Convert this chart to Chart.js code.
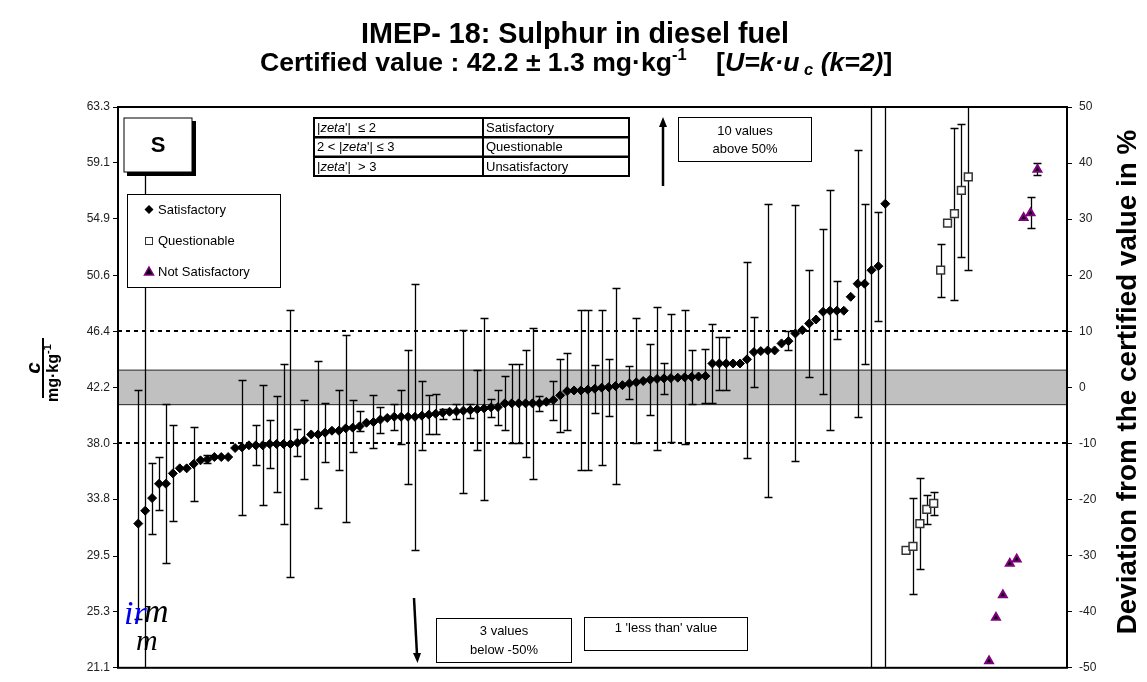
<!DOCTYPE html>
<html>
<head>
<meta charset="utf-8">
<script src="https://cdn.jsdelivr.net/npm/chart.js@4.4.1/dist/chart.umd.min.js"></script>
<style>
  html, body { margin: 0; padding: 0; background: #fff; }
  #wrap { width: 1147px; height: 682px; position: relative; }
</style>
</head>
<body>
<div id="wrap"><canvas id="chart"></canvas></div>
<script>
// certified value and expanded uncertainty (mg/kg)
const certified = 42.2;
const certifiedU = 1.3;

const leftTickLabels = ['63.3', '59.1', '54.9', '50.6', '46.4', '42.2', '38.0', '33.8', '29.5', '25.3', '21.1'];
const rightTickLabels = [50, 40, 30, 20, 10, 0, -10, -20, -30, -40, -50];

// satisfactory results, in participant order (slot 3 .. 111)
const satValues = [
  31.95, 32.92, 33.87, 34.95, 34.95, 35.73, 36.11, 36.11, 36.43, 36.71,
  36.78, 36.96, 36.96, 36.96, 37.64, 37.69, 37.84, 37.84, 37.84, 37.94,
  37.94, 37.94, 37.94, 38.04, 38.21, 38.66, 38.66, 38.79, 38.94, 38.94,
  39.12, 39.17, 39.27, 39.54, 39.59, 39.78, 39.90, 39.99, 39.99, 39.99,
  39.99, 40.07, 40.15, 40.22, 40.30, 40.37, 40.39, 40.45, 40.49, 40.55,
  40.62, 40.70, 40.72, 41.00, 41.00, 41.00, 41.00, 41.00, 41.00, 41.12,
  41.25, 41.60, 41.92, 41.97, 41.97, 42.03, 42.10, 42.18, 42.22, 42.30,
  42.37, 42.50, 42.58, 42.68, 42.78, 42.84, 42.88, 42.90, 42.93, 42.96,
  42.99, 43.02, 43.05, 44.00, 44.00, 44.00, 44.00, 44.00, 44.31, 44.86,
  44.93, 44.98, 44.98, 45.51, 45.68, 46.26, 46.51, 47.01, 47.31, 47.89,
  47.97, 47.97, 47.97, 49.02, 50.00, 50.00, 51.02, 51.32, 56.02
];
const satLow = [
  24.75, 10, 31.14, 32.95, 28.96, 32.14, null, null, 33.65, null,
  36.48, null, null, null, null, 32.57, null, 36.33, 33.32, 36.16,
  34.33, 31.92, 27.93, 37.03, 35.28, null, 33.15, 36.58, null, 35.98,
  32.07, 37.33, 38.91, null, 37.66, 38.79, null, 38.97, 37.96, 34.96,
  29.94, 37.46, 38.66, 38.72, 39.85, null, 39.79, 34.23, 39.87, 37.46,
  33.72, 39.97, 39.36, 38.97, 37.99, 37.99, 36.96, 35.28, 40.42, null,
  39.74, 38.87, 38.97, null, 35.98, 35.98, 40.30, 36.36, 40.04, 34.96,
  null, 41.35, 37.99, null, 40.09, 37.46, 41.70, 38.09, null, 37.91,
  40.97, null, 41.05, 41.05, 42.00, 42.00, null, null, 36.91, 42.22,
  null, 33.95, null, null, 44.98, 36.66, null, 43.00, null, 41.67,
  38.97, 45.81, null, null, 39.97, 43.98, 10, 47.19, 10
];
const satHigh = [
  42.00, 60.00, 36.54, 36.96, 40.97, 39.34, null, null, 39.24, null,
  37.09, null, null, null, null, 42.75, null, 39.34, 42.37, 39.74,
  41.58, 43.98, 47.99, 39.04, 41.25, null, 44.18, 41.00, null, 42.00,
  46.13, 41.22, 40.42, null, 41.65, 40.72, null, 40.97, 42.00, 45.00,
  50.00, 42.67, 41.60, 41.73, 40.60, null, 40.92, 46.51, 40.97, 43.50,
  47.39, 41.35, 41.97, 43.05, 43.98, 43.98, 45.00, 46.66, 41.55, null,
  42.67, 44.31, 44.76, null, 47.99, 47.99, 43.85, 47.99, 44.31, 49.70,
  null, 43.80, 47.39, null, 45.49, 48.24, 44.00, 47.69, null, 47.99,
  45.00, null, 45.11, 46.99, 45.98, 45.98, null, null, 51.63, 47.49,
  null, 56.02, null, null, 46.44, 55.91, null, 51.02, null, 54.14,
  57.04, 50.20, null, null, 60.03, 56.02, 80, 55.39, 80
];

// questionable results (slots 114 .. 123)
const qSlots = [114, 115, 116, 117, 118, 119, 120, 121, 122, 123];
const qValues = [29.94, 30.24, 31.95, 33.02, 33.47, 51.03, 54.56, 55.27, 57.02, 58.05];
const qLow = [null, 26.63, 28.54, 31.95, 32.62, 48.99, null, 48.77, 52.03, 51.03];
const qHigh = [null, 33.85, 35.37, 34.14, 34.32, 52.96, null, 61.69, 62.04, 66.00];

// unsatisfactory results (slots 126 .. 133)
const uSlots = [126, 127, 128, 129, 130, 131, 132, 133];
const uValues = [21.61, 24.88, 26.58, 28.94, 29.26, 54.97, 55.33, 58.60];
const uLow = [null, null, null, null, null, null, 54.22, 58.20];
const uHigh = [null, null, null, null, null, null, 56.55, 59.10];

const FONT = "'Liberation Sans', Arial, sans-serif";
const SERIF = "'Liberation Serif', 'DejaVu Serif', serif";

const satData = satValues.map((v, i) => ({ x: i + 3, y: v }));
const qData = qValues.map((v, i) => ({ x: qSlots[i], y: v }));
const uData = uValues.map((v, i) => ({ x: uSlots[i], y: v }));

// font size that makes text span targetW
function fitSize(ctx, text, style, target) {
  ctx.font = style + ' 20px ' + FONT;
  return 20 * target / ctx.measureText(text).width;
}

const bandPlugin = {
  id: 'band',
  beforeDatasetsDraw(chart) {
    const { ctx, chartArea: a, scales: { y } } = chart;
    ctx.save();
    const yTop = y.getPixelForValue(certified + certifiedU);
    const yBot = y.getPixelForValue(certified - certifiedU);
    ctx.fillStyle = '#c0c0c0';
    ctx.fillRect(a.left, yTop, a.right - a.left, yBot - yTop);
    ctx.strokeStyle = '#222';
    ctx.lineWidth = 1;
    ctx.beginPath();
    ctx.moveTo(a.left, yTop); ctx.lineTo(a.right, yTop);
    ctx.moveTo(a.left, yBot); ctx.lineTo(a.right, yBot);
    ctx.stroke();
    // +-10 % lines
    ctx.setLineDash([4, 4]);
    ctx.lineWidth = 2;
    ctx.strokeStyle = '#000';
    [1.1, 0.9].forEach(f => {
      const py = Math.round(y.getPixelForValue(certified * f));
      ctx.beginPath(); ctx.moveTo(a.left, py); ctx.lineTo(a.right, py); ctx.stroke();
    });
    ctx.restore();
  }
};

const errorBarPlugin = {
  id: 'errorBars',
  beforeDatasetsDraw(chart) {
    const { ctx, chartArea: a, scales: { x, y } } = chart;
    ctx.save();
    ctx.beginPath();
    ctx.rect(a.left, a.top, a.right - a.left, a.bottom - a.top);
    ctx.clip();
    ctx.strokeStyle = '#000';
    ctx.lineWidth = 1.3;
    chart.data.datasets.forEach(ds => {
      ds.data.forEach((p, i) => {
        const lo = ds.errLow[i], hi = ds.errHigh[i];
        if (lo == null || hi == null) return;
        const px = Math.round(x.getPixelForValue(p.x)) + 0.5;
        const y1 = Math.round(y.getPixelForValue(lo)) + 0.5;
        const y2 = Math.round(y.getPixelForValue(hi)) + 0.5;
        ctx.beginPath();
        ctx.moveTo(px, y1); ctx.lineTo(px, y2);
        ctx.moveTo(px - 4, y1); ctx.lineTo(px + 4, y1);
        ctx.moveTo(px - 4, y2); ctx.lineTo(px + 4, y2);
        ctx.stroke();
      });
    });
    ctx.restore();
  }
};

function box(ctx, x, y, w, h, lw) {
  ctx.fillStyle = '#fff';
  ctx.fillRect(x, y, w, h);
  ctx.lineWidth = lw;
  ctx.strokeStyle = '#000';
  ctx.strokeRect(x, y, w, h);
}

const overlayPlugin = {
  id: 'overlay',
  afterDatasetsDraw(chart) {
    const { ctx, chartArea: a } = chart;
    ctx.save();
    // frame
    ctx.strokeStyle = '#000';
    ctx.lineWidth = 2;
    ctx.strokeRect(a.left, a.top, a.right - a.left, a.bottom - a.top);

    // "S" box with shadow
    ctx.fillStyle = '#000';
    ctx.fillRect(127, 121, 69, 55);
    box(ctx, 124, 118, 68, 54, 1);
    ctx.fillStyle = '#000';
    ctx.font = 'bold 22px ' + FONT;
    ctx.textAlign = 'center';
    ctx.textBaseline = 'middle';
    ctx.fillText('S', 158, 146);

    // legend
    box(ctx, 127.5, 194.5, 153, 93, 1);
    ctx.textAlign = 'left';
    ctx.font = '13px ' + FONT;
    ctx.fillStyle = '#000';
    const lx = 149;
    ctx.beginPath();
    ctx.moveTo(lx, 205); ctx.lineTo(lx + 4.5, 209.5); ctx.lineTo(lx, 214); ctx.lineTo(lx - 4.5, 209.5);
    ctx.closePath(); ctx.fill();
    ctx.fillText('Satisfactory', 158, 210);
    ctx.strokeStyle = '#333'; ctx.lineWidth = 1;
    ctx.strokeRect(145.5, 237.5, 7, 7);
    ctx.fillText('Questionable', 158, 241);
    ctx.beginPath();
    ctx.moveTo(lx, 267); ctx.lineTo(lx + 4.5, 275); ctx.lineTo(lx - 4.5, 275); ctx.closePath();
    ctx.fillStyle = '#000'; ctx.fill();
    ctx.strokeStyle = '#800080'; ctx.lineWidth = 1.5; ctx.stroke();
    ctx.fillStyle = '#000';
    ctx.fillText('Not Satisfactory', 158, 272);

    // zeta table
    const rows = [
      [[{ t: '|', i: 0 }, { t: 'zeta', i: 1 }, { t: "'|  \u2264 2", i: 0 }], 'Satisfactory'],
      [[{ t: '2 < |', i: 0 }, { t: 'zeta', i: 1 }, { t: "'| \u2264 3", i: 0 }], 'Questionable'],
      [[{ t: '|', i: 0 }, { t: 'zeta', i: 1 }, { t: "'|  > 3", i: 0 }], 'Unsatisfactory']
    ];
    const ty = [118, 137.5, 157];
    rows.forEach((r, k) => {
      box(ctx, 314, ty[k], 315, 19, 2);
      ctx.beginPath(); ctx.moveTo(483, ty[k]); ctx.lineTo(483, ty[k] + 19); ctx.stroke();
      ctx.fillStyle = '#000';
      let x = 317;
      r[0].forEach(p => {
        ctx.font = (p.i ? 'italic ' : '') + '13px ' + FONT;
        ctx.fillText(p.t, x, ty[k] + 10);
        x += ctx.measureText(p.t).width;
      });
      ctx.font = '13px ' + FONT;
      ctx.fillText(r[1], 486, ty[k] + 10);
    });

    // up arrow and note
    ctx.strokeStyle = '#000'; ctx.fillStyle = '#000'; ctx.lineWidth = 2.5;
    ctx.beginPath(); ctx.moveTo(663, 186); ctx.lineTo(663, 124); ctx.stroke();
    ctx.beginPath(); ctx.moveTo(663, 117); ctx.lineTo(667, 127); ctx.lineTo(659, 127); ctx.closePath(); ctx.fill();
    box(ctx, 678.5, 117.5, 133, 44, 1);
    ctx.fillStyle = '#000';
    ctx.font = '13px ' + FONT;
    ctx.textAlign = 'center';
    ctx.fillText('10 values', 745, 131);
    ctx.fillText('above 50%', 745, 149);

    // down arrow and notes
    ctx.lineWidth = 2.5;
    ctx.beginPath(); ctx.moveTo(414, 598); ctx.lineTo(417, 655); ctx.stroke();
    ctx.beginPath(); ctx.moveTo(417.5, 663); ctx.lineTo(413, 653); ctx.lineTo(421, 653); ctx.closePath(); ctx.fill();
    box(ctx, 436.5, 618.5, 135, 44, 1);
    ctx.fillStyle = '#000';
    ctx.fillText('3 values', 504, 631);
    ctx.fillText('below -50%', 504, 650);
    box(ctx, 584.5, 617.5, 163, 33, 1);
    ctx.fillStyle = '#000';
    ctx.fillText("1 'less than' value", 666, 628);

    // logo
    ctx.textAlign = 'left';
    ctx.textBaseline = 'alphabetic';
    ctx.font = 'italic 34px ' + SERIF;
    ctx.fillStyle = '#0000ee';
    ctx.fillText('ir', 124, 624);
    ctx.fillStyle = '#000';
    ctx.fillText('m', 144, 622);
    ctx.font = 'italic 30px ' + SERIF;
    ctx.fillText('m', 136, 650);
    ctx.restore();
  },
  afterDraw(chart) {
    const { ctx } = chart;
    ctx.save();
    ctx.fillStyle = '#000';
    ctx.textBaseline = 'middle';
    ctx.textAlign = 'center';

    const title = 'IMEP- 18: Sulphur in diesel fuel';
    ctx.font = 'bold ' + (fitSize(ctx, title, 'bold', 446) * 0.96) + 'px ' + FONT;
    ctx.fillText(title, 575, 35);

    // subtitle built from pieces (superscript / subscript / italics)
    const main = 'Certified value : ' + certified + ' \u00b1 ' + certifiedU + ' mg\u00b7kg';
    const fs = fitSize(ctx, main, 'bold', 412);
    const small = fs * 0.62;
    const parts = [
      { t: main, f: 'bold ' + fs },
      { t: '-1', f: 'bold ' + small, dy: -fs * 0.33 },
      { t: '    [', f: 'bold ' + fs },
      { t: 'U=k\u00b7u', f: 'italic bold ' + fs },
      { t: ' c', f: 'italic bold ' + small, dy: fs * 0.25 },
      { t: ' (k=2)', f: 'italic bold ' + fs },
      { t: ']', f: 'bold ' + fs }
    ];
    ctx.textAlign = 'left';
    let x = 260;
    parts.forEach(p => {
      ctx.font = p.f + 'px ' + FONT;
      ctx.fillText(p.t, x, 64 + (p.dy || 0));
      x += ctx.measureText(p.t).width;
    });

    // left axis title
    ctx.save();
    ctx.translate(44, 368);
    ctx.rotate(-Math.PI / 2);
    ctx.textAlign = 'center';
    ctx.font = 'italic bold 21px ' + FONT;
    ctx.fillText('c', 0, -10);
    ctx.fillRect(-30, -2, 60, 2);
    ctx.textAlign = 'left';
    ctx.font = 'bold 16px ' + FONT;
    const mw = ctx.measureText('mg\u00b7kg').width;
    ctx.fillText('mg\u00b7kg', -34, 10);
    ctx.font = 'bold 11px ' + FONT;
    ctx.fillText('-1', -34 + mw, 4);
    ctx.restore();

    // right axis title
    ctx.save();
    ctx.translate(1128, 382);
    ctx.rotate(-Math.PI / 2);
    ctx.textAlign = 'center';
    const rt = 'Deviation from the certified value in %';
    ctx.font = 'bold ' + fitSize(ctx, rt, 'bold', 505) + 'px ' + FONT;
    ctx.fillText(rt, 0, 0);
    ctx.restore();
    ctx.restore();
  }
};

new Chart(document.getElementById('chart'), {
  type: 'scatter',
  data: {
    datasets: [
      {
        label: 'Satisfactory', data: satData, errLow: satLow, errHigh: satHigh,
        pointStyle: 'rectRot', pointRadius: 4.5, backgroundColor: '#000', borderColor: '#000', borderWidth: 1
      },
      {
        label: 'Questionable', data: qData, errLow: qLow, errHigh: qHigh,
        pointStyle: 'rect', pointRadius: 5.5, backgroundColor: '#fff', borderColor: '#333', borderWidth: 1.5
      },
      {
        label: 'Not Satisfactory', data: uData, errLow: uLow, errHigh: uHigh,
        pointStyle: 'triangle', pointRadius: 4.5, backgroundColor: '#000', borderColor: '#800080', borderWidth: 2
      }
    ]
  },
  options: {
    responsive: true,
    maintainAspectRatio: false,
    animation: false,
    layout: { padding: { top: 107, bottom: 14, left: 0, right: 0 } },
    plugins: { legend: { display: false }, tooltip: { enabled: false } },
    scales: {
      x: { type: 'linear', display: false, min: 0.07, max: 137.27 },
      y: {
        position: 'left', min: 21.1, max: 63.3,
        afterBuildTicks: s => { s.ticks = leftTickLabels.map(l => ({ value: Number(l) })); },
        afterFit: s => { s.width = 118; },
        ticks: { callback: v => v.toFixed(1), color: '#222', font: { family: FONT, size: 12 }, padding: 3 },
        grid: { drawOnChartArea: false, drawTicks: true, tickLength: 5, color: '#000' },
        border: { color: '#000', width: 2 }
      },
      y2: {
        position: 'right', min: -50, max: 50,
        afterBuildTicks: s => { s.ticks = rightTickLabels.map(v => ({ value: v })); },
        afterFit: s => { s.width = 80; },
        ticks: { callback: v => String(v), color: '#222', font: { family: FONT, size: 12 }, padding: 7 },
        grid: { drawOnChartArea: false, drawTicks: true, tickLength: 5, color: '#000' },
        border: { color: '#000', width: 2 }
      }
    }
  },
  plugins: [bandPlugin, errorBarPlugin, overlayPlugin]
});
</script>
</body>
</html>
